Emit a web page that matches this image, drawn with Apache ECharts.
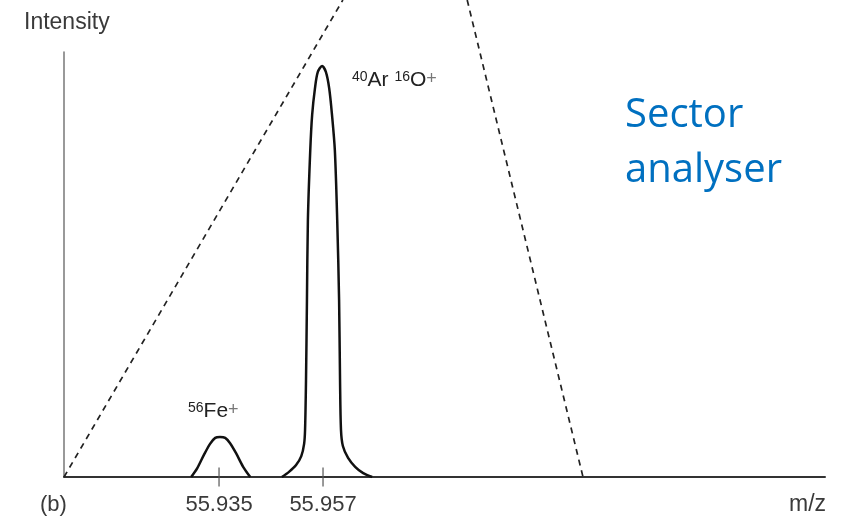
<!DOCTYPE html>
<html>
<head>
<meta charset="utf-8">
<script src="https://cdn.jsdelivr.net/npm/echarts@6/dist/echarts.min.js"></script>
<style>
  html, body { margin: 0; padding: 0; background: #fff; }
  #chart { width: 856px; height: 521px; }
</style>
</head>
<body>
<div id="chart"></div>
<script>
// m/z range of the axis
const mzMin = 55.9022;
const mzMax = 56.0632;
const tickValues = [55.935, 55.957];

// 56Fe+ peak
const feMz = [55.9291, 55.9304, 55.9318, 55.9331, 55.9342, 55.9352, 55.9363, 55.9373, 55.9386, 55.9401, 55.9416];
const feInt = [0, 0.021, 0.052, 0.078, 0.092, 0.094, 0.092, 0.080, 0.056, 0.024, 0];

// 40Ar16O+ peak
const aroMz = [55.9483, 55.9498, 55.9513, 55.9524, 55.9530, 55.9532, 55.9534, 55.9536, 55.9538, 55.9543,
  55.9547, 55.9553, 55.9559, 55.9568, 55.9576, 55.9583, 55.9589, 55.9595, 55.9600, 55.9604,
  55.9606, 55.9608, 55.9612, 55.9623, 55.9638, 55.9655, 55.9674];
const aroInt = [0, 0.012, 0.028, 0.049, 0.078, 0.111, 0.228, 0.416, 0.605, 0.769,
  0.852, 0.915, 0.953, 0.967, 0.953, 0.915, 0.852, 0.769, 0.605, 0.416,
  0.228, 0.111, 0.073, 0.045, 0.024, 0.009, 0];

// sector analyser acceptance window (dashed)
const leftEdgeMz = [55.9022, 55.9612];
const leftEdgeInt = [0, 1.1224];
const rightEdgeMz = [55.9875, 56.0120];
const rightEdgeInt = [1.1224, 0];

const zip = (xs, ys) => xs.map((x, i) => [x, ys[i]]);

const chart = echarts.init(document.getElementById('chart'));
const textColor = '#3a3a3a';
const font = 'Liberation Sans';

const ionRich = {
  s: { fontFamily: font, fontSize: 14, verticalAlign: 'top', fill: '#222' },
  m: { fontFamily: font, fontSize: 21, fill: '#222' },
  p: { fontFamily: font, fontSize: 18, verticalAlign: 'top', fill: '#777' },
};

const option = {
  animation: false,
  grid: { left: 64, right: 31, top: 52, bottom: 44 },
  xAxis: {
    type: 'value',
    min: mzMin,
    max: mzMax,
    axisLine: { lineStyle: { color: '#333', width: 2 } },
    axisTick: { show: false },
    splitLine: { show: false },
    axisLabel: {
      customValues: tickValues,
      formatter: (v) => v.toFixed(3),
      color: textColor,
      fontFamily: font,
      fontSize: 22,
      margin: 17,
    },
  },
  yAxis: {
    type: 'value',
    min: 0,
    max: 1,
    name: 'Intensity',
    nameLocation: 'end',
    nameGap: 18,
    nameTextStyle: { color: textColor, fontFamily: font, fontSize: 23, align: 'left', padding: [0, 0, 0, -40] },
    axisLine: { show: true, lineStyle: { color: '#777', width: 1.5 } },
    axisTick: { show: false },
    axisLabel: { show: false },
    splitLine: { show: false },
  },
  series: [
    {
      name: 'left edge',
      type: 'line',
      data: zip(leftEdgeMz, leftEdgeInt),
      clip: false,
      symbol: 'none',
      silent: true,
      lineStyle: { color: '#222', width: 1.7, type: [6, 5] },
    },
    {
      name: 'right edge',
      type: 'line',
      data: zip(rightEdgeMz, rightEdgeInt),
      clip: false,
      symbol: 'none',
      silent: true,
      lineStyle: { color: '#222', width: 1.7, type: [6, 5] },
    },
    {
      name: 'Fe',
      type: 'line',
      data: zip(feMz, feInt),
      smooth: 0.3,
      symbol: 'none',
      lineStyle: { color: '#111', width: 2.5 },
    },
    {
      name: 'ArO',
      type: 'line',
      data: zip(aroMz, aroInt),
      smooth: 0.3,
      symbol: 'none',
      lineStyle: { color: '#111', width: 2.5 },
    },
    {
      name: 'ticks',
      type: 'scatter',
      data: tickValues.map((v) => [v, 0]),
      symbol: 'rect',
      symbolSize: [1.5, 19],
      itemStyle: { color: '#555' },
      silent: true,
      z: 1,
    },
  ],
  graphic: [
    {
      type: 'text',
      left: 625,
      top: 88,
      style: {
        text: 'Sector\nanalyser',
        fill: '#0070C0',
        font: '40px "Open Sans"',
        lineHeight: 55,
      },
    },
    {
      type: 'text',
      left: 352,
      top: 70,
      style: { text: '{s|40}{m|Ar }{s|16}{m|O}{p|+}', rich: ionRich },
    },
    {
      type: 'text',
      left: 188,
      top: 401,
      style: { text: '{s|56}{m|Fe}{p|+}', rich: ionRich },
    },
    {
      type: 'text',
      left: 40,
      top: 494,
      style: { text: '(b)', fill: textColor, font: '22px "Liberation Sans"' },
    },
    {
      type: 'text',
      left: 789,
      top: 493,
      style: { text: 'm/z', fill: textColor, font: '23px "Liberation Sans"' },
    },
  ],
};

chart.setOption(option);
</script>
</body>
</html>
